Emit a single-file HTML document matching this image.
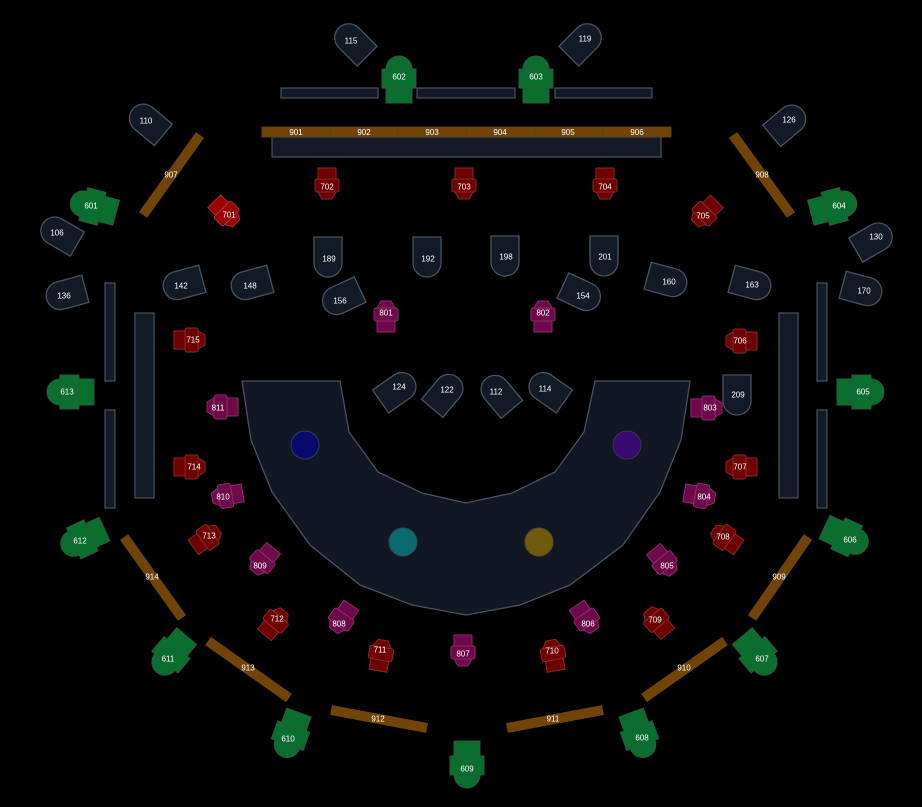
<!DOCTYPE html>
<html><head><meta charset="utf-8"><style>
html,body{margin:0;padding:0;background:#000;}
svg{display:block}
text{font-family:"Liberation Sans",sans-serif;font-size:8px;fill:#fff;text-anchor:middle;dominant-baseline:central;}
.tab{fill:#111a25;stroke:#4a5060;stroke-width:1.3}
.bar{fill:#111a25;stroke:#4a5060;stroke-width:1.2}
.ob{stroke:#704308;stroke-width:10}
</style></head><body>
<svg width="922" height="807" viewBox="0 0 922 807" xmlns="http://www.w3.org/2000/svg">
<defs>
<g id="tab"><path class="tab" d="M-14,-20 H14 V6 A14,14 0 0 1 -14,6 Z"/></g>
<g id="gr" fill="#0a6e2e" stroke="#2a5a3a" stroke-width="1">
<path d="M-13,-8 A13,13 0 0 1 13,-8 Z"/>
<rect x="-13" y="-8" width="26" height="34"/>
<rect x="-17" y="-8" width="34" height="19"/>
</g>
<g id="rd" fill="#6e0000" stroke="#8a2828" stroke-width="1">
<rect x="-9" y="-18" width="18" height="11"/>
<rect x="-12" y="-7" width="24" height="13" rx="2"/>
<path d="M-9,6 L9,6 L5,13 L-5,13 Z"/>
</g>
<g id="rb" fill="#9a0000" stroke="#aa3030" stroke-width="1">
<rect x="-9" y="-18" width="18" height="11"/>
<rect x="-12" y="-7" width="24" height="13" rx="2"/>
<path d="M-9,6 L9,6 L5,13 L-5,13 Z"/>
</g>
<g id="pu" fill="#6e0a4a" stroke="#8a2a66" stroke-width="1">
<rect x="-9" y="-18" width="18" height="11"/>
<rect x="-12" y="-7" width="24" height="13" rx="2"/>
<path d="M-9,6 L9,6 L5,13 L-5,13 Z"/>
</g>
</defs>
<rect width="922" height="807" fill="#000"/>

<!-- top bars -->
<rect class="bar" x="281" y="88" width="97" height="10"/>
<rect class="bar" x="417" y="88" width="98" height="10"/>
<rect class="bar" x="555" y="88" width="97" height="10"/>
<rect class="bar" x="272" y="137" width="389" height="20"/>
<rect x="262" y="127" width="409" height="10" fill="#704308" stroke="#5a4020" stroke-width="1"/>
<g stroke="#5a4020" stroke-width="1">
<line x1="330" y1="127" x2="330" y2="137"/><line x1="398" y1="127" x2="398" y2="137"/>
<line x1="466" y1="127" x2="466" y2="137"/><line x1="535" y1="127" x2="535" y2="137"/>
<line x1="603" y1="127" x2="603" y2="137"/></g>
<text x="296" y="132.5">901</text><text x="364" y="132.5">902</text><text x="432" y="132.5">903</text>
<text x="500" y="132.5">904</text><text x="568" y="132.5">905</text><text x="637" y="132.5">906</text>

<!-- side bars -->
<rect class="bar" x="105" y="283" width="10" height="98"/>
<rect class="bar" x="105" y="410" width="10" height="98"/>
<rect class="bar" x="135" y="313" width="19" height="185"/>
<rect class="bar" x="817" y="283" width="10" height="98"/>
<rect class="bar" x="817" y="410" width="10" height="98"/>
<rect class="bar" x="779" y="313" width="19" height="185"/>

<!-- diagonal beams -->
<g class="ob">
<line x1="200" y1="135" x2="143" y2="215"/>
<line x1="733" y1="135" x2="791" y2="215"/>
<line x1="124" y1="537" x2="182" y2="618"/>
<line x1="808" y1="537" x2="752" y2="618"/>
<line x1="208" y1="641" x2="289" y2="698"/>
<line x1="725" y1="641" x2="644" y2="698"/>
<line x1="331" y1="710" x2="427" y2="728"/>
<line x1="603" y1="710" x2="507" y2="728"/>
</g>
<text x="171" y="175">907</text><text x="762" y="175">908</text>
<text x="152" y="577">914</text><text x="779" y="577">909</text>
<text x="248" y="668">913</text><text x="684" y="668">910</text>
<text x="378" y="719">912</text><text x="553" y="719">911</text>

<!-- stage -->
<polygon points="242,381 340,381 349,432 378,472 422,493 466,503 512,493 555,472 584,432 595,381 690,381 681,440 660,492 623,545 570,585 520,605 466,615 412,605 360,585 310,545 272,492 251,440" fill="#111823" stroke="#4a5060" stroke-width="1.3"/>
<circle cx="305" cy="445" r="14" fill="#0a0a6e" stroke="#333a55"/>
<circle cx="627" cy="445" r="14" fill="#3a0a6e" stroke="#3a3355"/>
<circle cx="403" cy="542" r="14" fill="#0a6a6e" stroke="#334a55"/>
<circle cx="539" cy="542" r="14" fill="#6e5a0a" stroke="#554a33"/>

<!-- tabs -->
<use href="#tab" transform="translate(353,42) rotate(135)"/><text x="351" y="41">115</text>
<use href="#tab" transform="translate(583,42) rotate(-135)"/><text x="585" y="39">119</text>
<use href="#tab" transform="translate(148,122) rotate(130)"/><text x="146" y="121">110</text>
<use href="#tab" transform="translate(787,123) rotate(-130)"/><text x="789" y="120">126</text>
<use href="#tab" transform="translate(60,234) rotate(120)"/><text x="57" y="233">106</text>
<use href="#tab" transform="translate(873,240) rotate(-120)"/><text x="876" y="237">130</text>
<use href="#tab" transform="translate(66,294) rotate(75)"/><text x="64" y="296">136</text>
<use href="#tab" transform="translate(183,284) rotate(75)"/><text x="181" y="286">142</text>
<use href="#tab" transform="translate(251,284) rotate(75)"/><text x="250" y="286">148</text>
<use href="#tab" transform="translate(667,281) rotate(-75)"/><text x="669" y="282">160</text>
<use href="#tab" transform="translate(751,284) rotate(-75)"/><text x="752" y="285">163</text>
<use href="#tab" transform="translate(862,290) rotate(-75)"/><text x="864" y="291">170</text>
<use href="#tab" transform="translate(342,298) rotate(65)"/><text x="340" y="301">156</text>
<use href="#tab" transform="translate(581,294) rotate(-65)"/><text x="583" y="296">154</text>
<use href="#tab" transform="translate(328,257)"/><text x="329" y="259">189</text>
<use href="#tab" transform="translate(427,257)"/><text x="428" y="259">192</text>
<use href="#tab" transform="translate(505,256)"/><text x="506" y="257">198</text>
<use href="#tab" transform="translate(604,256)"/><text x="605" y="257">201</text>
<use href="#tab" transform="translate(737,395)"/><text x="738" y="395">209</text>
<use href="#tab" transform="translate(397,390) rotate(-125)"/><text x="399" y="387">124</text>
<use href="#tab" transform="translate(445,393) rotate(-140)"/><text x="447" y="390">122</text>
<use href="#tab" transform="translate(499,394) rotate(140)"/><text x="496" y="392">112</text>
<use href="#tab" transform="translate(548,390) rotate(125)"/><text x="545" y="389">114</text>

<!-- green -->
<use href="#gr" transform="translate(399,77)"/><text x="399" y="77">602</text>
<use href="#gr" transform="translate(536,77)"/><text x="536" y="77">603</text>
<use href="#gr" transform="translate(91,206) rotate(-75)"/><text x="91" y="206">601</text>
<use href="#gr" transform="translate(836,206) rotate(75)"/><text x="839" y="206">604</text>
<use href="#gr" transform="translate(68,392) rotate(-90)"/><text x="67" y="392">613</text>
<use href="#gr" transform="translate(863,392) rotate(90)"/><text x="863" y="392">605</text>
<use href="#gr" transform="translate(81,540) rotate(-115)"/><text x="80" y="541">612</text>
<use href="#gr" transform="translate(848,538) rotate(115)"/><text x="850" y="540">606</text>
<use href="#gr" transform="translate(170,656) rotate(-140)"/><text x="168" y="659">611</text>
<use href="#gr" transform="translate(759,656) rotate(140)"/><text x="762" y="659">607</text>
<use href="#gr" transform="translate(290,737) rotate(-160)"/><text x="288" y="739">610</text>
<use href="#gr" transform="translate(640,737) rotate(160)"/><text x="642" y="738">608</text>
<use href="#gr" transform="translate(467,767) rotate(180)"/><text x="467" y="769">609</text>

<!-- red -->
<use href="#rb" transform="translate(227,214) rotate(-45)"/><text x="229" y="215">701</text>
<use href="#rd" transform="translate(327,186)"/><text x="327" y="187">702</text>
<use href="#rd" transform="translate(464,186)"/><text x="464" y="187">703</text>
<use href="#rd" transform="translate(605,186)"/><text x="605" y="187">704</text>
<use href="#rd" transform="translate(704,214) rotate(45)"/><text x="703" y="216">705</text>
<use href="#rd" transform="translate(739,341) rotate(90)"/><text x="740" y="341">706</text>
<use href="#rd" transform="translate(739,467) rotate(90)"/><text x="740" y="467">707</text>
<use href="#rd" transform="translate(724,537) rotate(125)"/><text x="723" y="537">708</text>
<use href="#rd" transform="translate(656,620) rotate(140)"/><text x="655" y="620">709</text>
<use href="#rd" transform="translate(553,653) rotate(170)"/><text x="552" y="651">710</text>
<use href="#rd" transform="translate(381,653) rotate(190)"/><text x="380" y="650">711</text>
<use href="#rd" transform="translate(276,621) rotate(-140)"/><text x="277" y="619">712</text>
<use href="#rd" transform="translate(208,537) rotate(-125)"/><text x="209" y="536">713</text>
<use href="#rd" transform="translate(192,467) rotate(-90)"/><text x="194" y="467">714</text>
<use href="#rd" transform="translate(192,340) rotate(-90)"/><text x="193" y="340">715</text>

<!-- purple -->
<use href="#pu" transform="translate(386,314) rotate(180)"/><text x="386" y="313">801</text>
<use href="#pu" transform="translate(543,314) rotate(180)"/><text x="543" y="313">802</text>
<use href="#pu" transform="translate(709,408) rotate(-90)"/><text x="710" y="408">803</text>
<use href="#pu" transform="translate(702,496) rotate(-80)"/><text x="704" y="497">804</text>
<use href="#pu" transform="translate(665,563) rotate(-40)"/><text x="667" y="566">805</text>
<use href="#pu" transform="translate(587,620) rotate(-35)"/><text x="588" y="624">806</text>
<use href="#pu" transform="translate(463,653)"/><text x="463" y="654">807</text>
<use href="#pu" transform="translate(341,620) rotate(35)"/><text x="339" y="624">808</text>
<use href="#pu" transform="translate(262,562) rotate(40)"/><text x="260" y="566">809</text>
<use href="#pu" transform="translate(225,496) rotate(80)"/><text x="223" y="497">810</text>
<use href="#pu" transform="translate(220,407) rotate(90)"/><text x="218" y="408">811</text>
</svg>
</body></html>
